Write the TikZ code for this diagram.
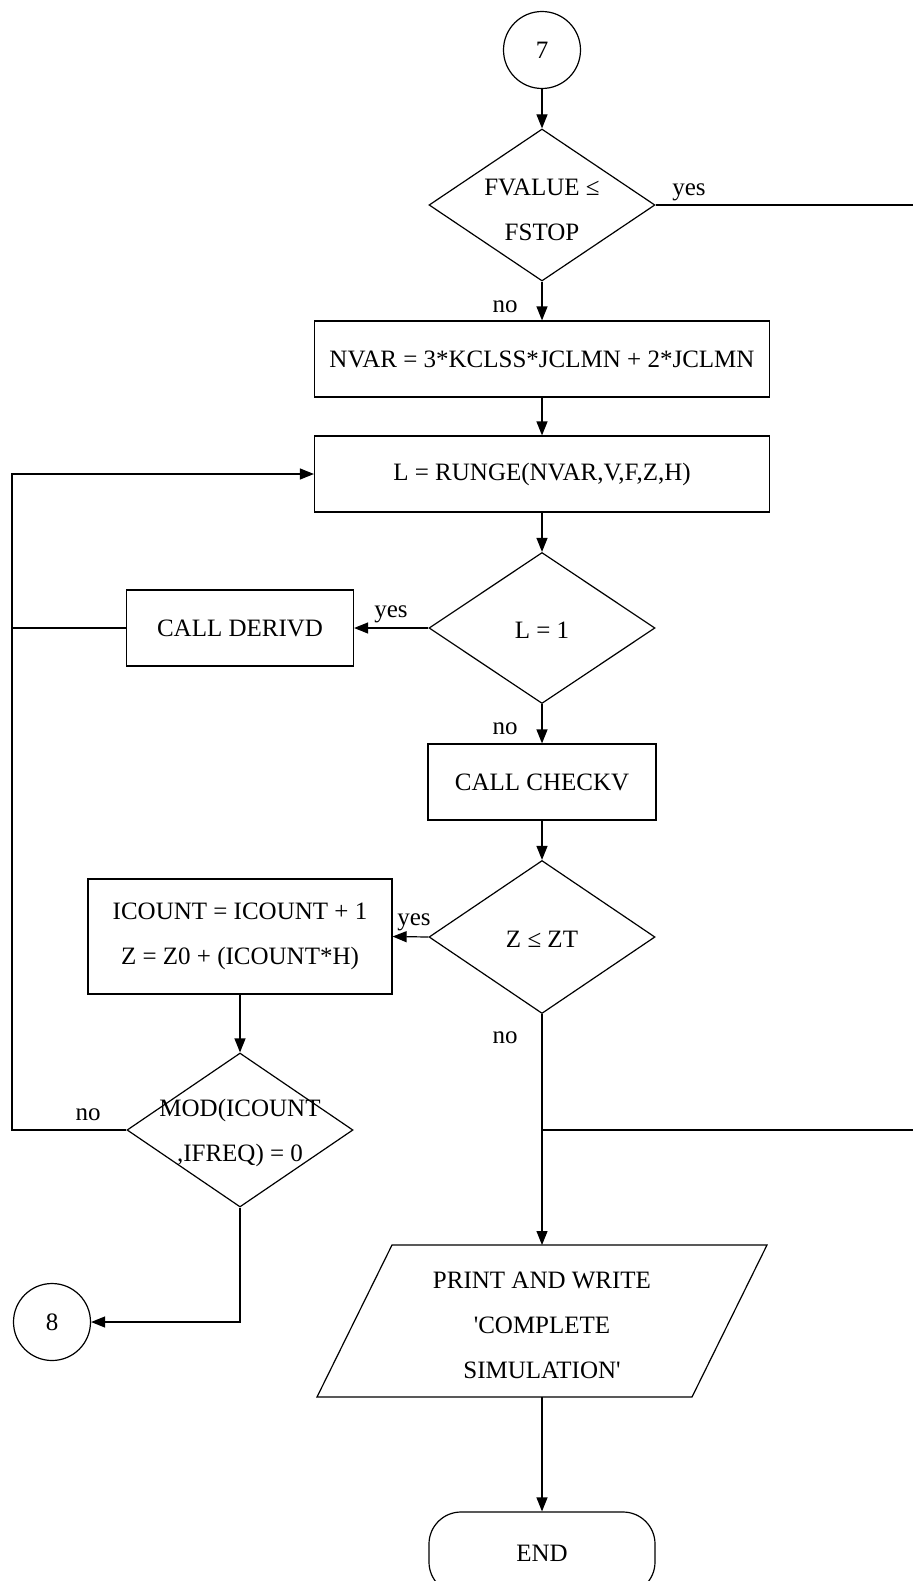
\documentclass[tikz,border=0pt]{standalone}
\usepackage{fontspec}
\setmainfont{Liberation Serif}[Ligatures=TeXOff]
\usetikzlibrary{shapes.geometric,arrows.meta}

\begin{document}
\begin{tikzpicture}[x=1pt,y=-1pt,
  every node/.style={font=\fontsize{25}{45}\selectfont},
  line/.style={draw, line width=1.2pt},
  arr/.style={line, -{Triangle[length=14pt,width=11pt]}},
  procbox/.style={draw, line width=1.2pt, rectangle, inner sep=0pt, minimum height=76pt},
  decision/.style={draw, line width=1.2pt, diamond, inner sep=0pt, minimum width=226pt, minimum height=152pt},
  connector/.style={draw, line width=1.2pt, circle, inner sep=0pt, minimum size=77pt},
  terminal/.style={draw, line width=1.2pt, rectangle, rounded corners=32pt, inner sep=0pt, minimum width=226pt, minimum height=82pt},
  txt/.style={inner sep=0pt, align=center},
  lbl/.style={inner sep=0pt}
]
\useasboundingbox (0,0) rectangle (913,1581);

% main column
\node[connector] (c7) at (542,50) {7};
\node[decision] (d1) at (542,205) {};
\node[txt] at (542,210) {FVALUE ≤\\FSTOP};
\node[procbox, minimum width=455pt] (nvar) at (542,359) {NVAR = 3*KCLSS*JCLMN + 2*JCLMN};
\node[procbox, minimum width=455pt] (runge) at (542,474) {L = RUNGE(NVAR,V,F,Z,H)};
\node[decision, minimum height=151pt] (d2) at (542,628) {};
\node[txt] at (542,630) {L = 1};
\node[procbox, minimum width=228pt] (checkv) at (542,782) {CALL CHECKV};
\node[decision, minimum height=153pt] (d3) at (542,937) {};
\node[txt] at (542,939) {Z ≤ ZT};

% left column
\node[procbox, minimum width=227pt] (deriv) at (240,628) {CALL DERIVD};
\node[procbox, minimum width=304pt, minimum height=115pt, align=center] (icount) at (240,936.5) {ICOUNT = ICOUNT + 1\\Z = Z0 + (ICOUNT*H)};
\node[decision, minimum height=154pt] (d4) at (240,1130) {};
\node[txt] at (240,1133) {MOD(ICOUNT\\,IFREQ) = 0};
\node[connector] (c8) at (52,1322) {8};

% output and end
\coordinate (outtop) at (542,1245);
\coordinate (outbot) at (542,1397);
\draw[line] (317,1397) -- (392,1245) -- (767,1245) -- (692,1397) -- cycle;
\node[txt] (outtext) at (542,1325) {PRINT AND WRITE\\'COMPLETE\\SIMULATION'};
\node[terminal] (endnode) at (542,1553) {END};

% helper points
\coordinate (yesend) at (913,205);
\coordinate (looptop) at (12,474);
\coordinate (junction) at (542,1130);
\coordinate (rightend) at (913,1130);

% connectors
\draw[arr] (c7) -- (d1);
\draw[line] (d1.east) -- (yesend);
\draw[arr] (d1.south) -- (nvar.north);
\draw[arr] (nvar) -- (runge);
\draw[arr] (runge) -- (d2);
\draw[arr] (d2.west) -- (deriv.east);
\draw[line] (deriv.west) -- (deriv.west -| looptop);
\draw[arr] (d2.south) -- (checkv.north);
\draw[arr] (checkv) -- (d3);
\draw[arr] (d3.west) -- (icount.east);
\draw[arr] (icount.south) -- (d4.north);
\draw[arr] (d4.west) -| (looptop) -- (runge.west);
\draw[arr] (d4.south) |- (c8.east);
\draw[arr] (d3.south) -- (outtop);
\draw[line] (junction) -- (rightend);
\draw[arr] (outbot) -- (endnode.north);

% branch labels
\node[lbl] at (689,192) {yes};
\node[lbl] at (505,307) {no};
\node[lbl] at (391,614) {yes};
\node[lbl] at (505,729) {no};
\node[lbl] at (414,922) {yes};
\node[lbl] at (505,1038) {no};
\node[lbl] at (88,1115) {no};
\end{tikzpicture}
\end{document}
